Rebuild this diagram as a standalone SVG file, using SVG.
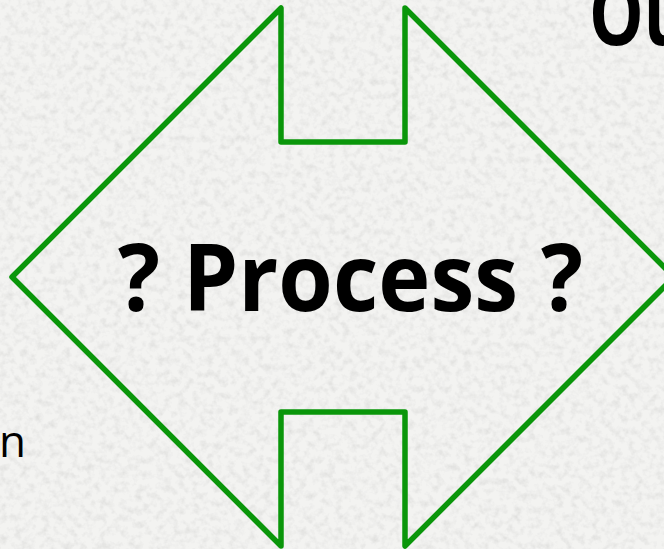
<svg xmlns="http://www.w3.org/2000/svg" width="664" height="549" viewBox="0 0 664 549">
  <defs>
    <filter id="granite" x="0" y="0" width="100%" height="100%">
      <feTurbulence type="fractalNoise" baseFrequency="0.14" numOctaves="3" seed="7" result="noise"/>
      <feColorMatrix in="noise" type="matrix" values="0 0 0 0 0.5  0 0 0 0 0.5  0 0 0 0 0.49  -0.8 0 0 0 0.45" result="spots"/>
      <feComposite in="spots" in2="SourceGraphic" operator="in" result="clipped"/>
      <feMerge>
        <feMergeNode in="SourceGraphic"/>
        <feMergeNode in="clipped"/>
      </feMerge>
    </filter>
    <style>
      .shape { fill: none; stroke: #0a960a; stroke-width: 5.5; stroke-linejoin: round; }
      .title { font-family: "Open Sans", "Liberation Sans", sans-serif; font-weight: 700; fill: #000; }
      .body { font-family: "Open Sans", "Liberation Sans", sans-serif; font-weight: 400; fill: #000; }
    </style>
  </defs>
  <g id="background">
    <rect x="0" y="0" width="664" height="549" fill="#f3f3f1" filter="url(#granite)"/>
  </g>
  <g id="process-node">
    <path class="shape" d="M 12 277 L 281 8 L 281 142 L 405 142 L 405 8 L 674 277 L 405 546 L 405 412 L 281 412 L 281 546 Z"/>
    <text class="title" x="118" y="311" font-size="94" textLength="465" lengthAdjust="spacingAndGlyphs">? Process ?</text>
  </g>
  <g id="output-label">
    <text class="title" x="589" y="45" font-size="88" textLength="100" lengthAdjust="spacingAndGlyphs">Ou</text>
  </g>
  <g id="input-label">
    <text class="body" x="-1" y="457" font-size="44">n</text>
  </g>
  <g id="connectors"></g>
</svg>
